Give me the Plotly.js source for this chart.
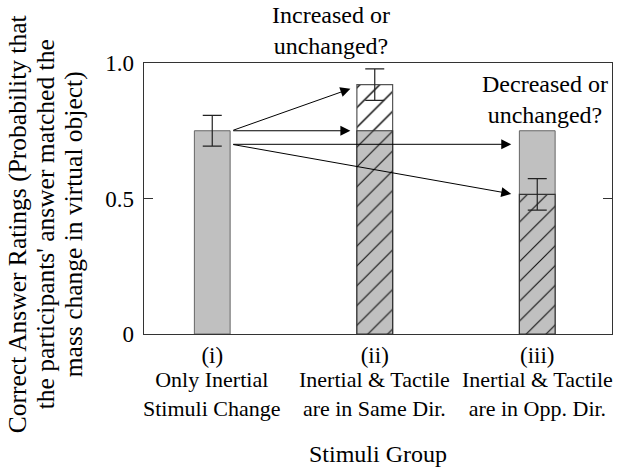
<!DOCTYPE html>
<html>
<head>
<meta charset="utf-8">
<script src="https://cdn.plot.ly/plotly-3.0.1.min.js"></script>
<style>html,body{margin:0;padding:0;background:#fff;}#chart{width:629px;height:468px;}</style>
</head>
<body>
<div id="chart"></div>
<script>
// ---- data ----
const groupPos = [0, 1, 2];
const groupLabels = ['(i)', '(ii)', '(iii)'];
const groupDescLine1 = ['Only Inertial', 'Inertial &amp; Tactile', 'Inertial &amp; Tactile'];
const groupDescLine2 = ['Stimuli Change', 'are in Same Dir.', 'are in Opp. Dir.'];
const meanRating = [0.75, 0.92, 0.515];
const errRating = [0.057, 0.058, 0.058];
// solid gray (inertial-only level) bars, at groups (i) and (iii)
const solidX = [0, 2];
const solidY = [0.75, 0.75];
// hatched white (increase) segment of group (ii)
const upperX = [1];
const upperY = [0.92];
// hatched gray bars
const hatchX = [1, 2];
const hatchY = [0.75, 0.515];
// arrows: from group (i) to guesses
const arrowFromX = [0.12, 0.12, 0.12, 0.12];
const arrowFromY = [0.75, 0.75, 0.70, 0.70];
const arrowToX = [0.85, 0.85, 1.84, 1.84];
const arrowToY = [0.905, 0.75, 0.70, 0.517];
const yTitleLines = ['Correct Answer Ratings (Probability that', "the participants' answer matched the", 'mass change in virtual object)'];
const incLines = ['Increased or', 'unchanged?'];
const decLines = ['Decreased or', 'unchanged?'];

const FONT = '"Liberation Serif", "Times New Roman", serif';
const GRAY = '#c0c0c0';
const W = 0.22;

const traces = [
  {type:'bar', x: solidX, y: solidY, width: W,
   marker:{color: GRAY, line:{color:'#666', width:1}}, hoverinfo:'skip'},
  {type:'bar', x: upperX, y: upperY, width: W,
   marker:{color:'#fff', line:{color:'#555', width:1.2},
     pattern:{shape:'/', bgcolor:'#fff', fgcolor:'#000', size:14, solidity:0.1}}, hoverinfo:'skip'},
  {type:'bar', x: hatchX, y: hatchY, width: W,
   marker:{color: GRAY, line:{color:'#333', width:1.2},
     pattern:{shape:'/', bgcolor: GRAY, fgcolor:'#111', size:14, solidity:0.08}}, hoverinfo:'skip'},
  {type:'scatter', mode:'markers', x: groupPos, y: meanRating,
   marker:{size:1, color:'rgba(0,0,0,0)'},
   error_y:{type:'data', array: errRating, visible:true, color:'#222', thickness:1.2, width:9.5},
   hoverinfo:'skip'}
];

const annotations = [];
for (let i = 0; i < arrowToX.length; i++) {
  annotations.push({x: arrowToX[i], y: arrowToY[i], ax: arrowFromX[i], ay: arrowFromY[i],
    xref:'x', yref:'y', axref:'x', ayref:'y', text:'', showarrow:true,
    arrowhead:2, arrowsize:2, arrowwidth:1, arrowcolor:'#000', standoff:0, startstandoff:0});
}
const txtFont = (s) => ({family:FONT, size:s, color:'#000'});
// category descriptions below tick labels
for (let i = 0; i < groupPos.length; i++) {
  annotations.push({xref:'x', yref:'paper', x: groupPos[i], y:0, yanchor:'middle', yshift: -60,
    text: groupDescLine1[i] + '<br>' + groupDescLine2[i], showarrow:false, font:txtFont(22), align:'center'});
}
// question labels
annotations.push({xref:'x', yref:'paper', x:0.73, y:1, yanchor:'bottom', yshift: 2,
  text: incLines.join('<br>'), showarrow:false, font:txtFont(24), align:'center'});
annotations.push({xref:'x', yref:'paper', x:2.05, y:1, yanchor:'top', yshift: -6,
  text: decLines.join('<br>'), showarrow:false, font:txtFont(24), align:'center'});
// y-axis title, one line each
yTitleLines.forEach((t, j) => annotations.push({xref:'paper', yref:'paper',
  x: (17 + 28*j - 144)/468, y:0.405, xanchor:'center', yanchor:'middle', textangle:-90,
  text:t, showarrow:false, font:txtFont(25.5)}));

const layout = {
  width: 629, height: 468,
  margin: {l:144, r:17, t:63, b:134},
  paper_bgcolor:'#fff', plot_bgcolor:'#fff',
  showlegend:false, barmode:'overlay', bargap:0,
  font:{family:FONT, size:23, color:'#000'},
  xaxis:{range:[-0.42, 2.46], tickvals: groupPos, ticktext: groupLabels,
    ticks:'', showgrid:false, zeroline:false, showline:true, linecolor:'#333', linewidth:1.3, mirror:true,
    tickfont:txtFont(23),
    title:{text:'Stimuli Group', font:txtFont(24), standoff:78}},
  yaxis:{range:[0,1], tickvals:[0,0.5,1], ticktext:['0','0.5','1.0'],
    ticks:'inside', ticklen:9, tickcolor:'#333', tickwidth:1.2, ticklabelstandoff:4,
    showgrid:false, zeroline:false, showline:true, linecolor:'#333', linewidth:1.3, mirror:'ticks',
    tickfont:txtFont(23)},
  annotations: annotations
};

Plotly.newPlot('chart', traces, layout, {staticPlot:true, displayModeBar:false});
</script>
</body>
</html>
